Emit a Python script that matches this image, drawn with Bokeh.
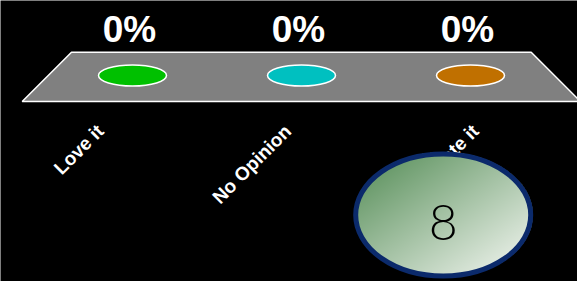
import numpy as np
from bokeh.plotting import figure
from bokeh.models import Range1d
from bokeh.core.properties import value
from bokeh.embed import file_html
from bokeh.resources import INLINE

# ---- data ----
categories = ["Love it", "No Opinion", "Hate it"]
percentages = [0, 0, 0]
bubble_colors = ["#00c000", "#00c0c0", "#c07000"]
countdown = 8

idx = list(range(len(categories)))
pct_text = [f"{v}%" for v in percentages]

W, H = 577, 281

p = figure(width=W, height=H, output_backend="svg", toolbar_location=None,
           x_range=Range1d(-0.7811, 2.6331), y_range=Range1d(0, H),
           x_axis_location=None, y_axis_location=None,
           min_border=0, background_fill_color="black", border_fill_color="black",
           outline_line_color=None)
p.grid.visible = False
p.extra_x_ranges = {"px": Range1d(0, W), "lab": Range1d(-0.4933, 2.584)}

# platform (trapezoid)
p.patch(x=[71, 530.7, 580, 21.7], y=[229.3, 229.3, 180, 180], x_range_name="px",
        fill_color="#808080", line_color="white", line_width=1.5)

# bubbles
p.ellipse(x=idx, y=206, width=68, height=21, width_units="screen", height_units="screen",
          fill_color=bubble_colors, line_color="white", line_width=1.5)

# percentage labels
p.text(x=idx, y=252, text=pct_text, x_offset=-3, text_font=value("Liberation Sans"),
       text_font_style="bold", text_font_size="37px", text_color="white",
       text_align="center", text_baseline="alphabetic")

# category labels
p.text(x=idx, y=161, text=categories, x_range_name="lab", angle=45, angle_units="deg",
       text_font=value("Liberation Sans"), text_font_style="bold", text_font_size="19px",
       text_color="white", text_align="right", text_baseline="top")

# countdown circle with gradient
cx, cy, cw, ch = 442.7, 66.5, 178, 125
ny, nx = 250, 356
yy, xx = np.mgrid[0:ny, 0:nx]
u = (xx + 0.5) / nx
vt = 1.0 - (yy + 0.5) / ny
t = np.clip((u + vt) / 2.0, 0, 1)
c0 = np.array([80, 138, 82])
c1 = np.array([250, 251, 248])
rgb = c0[None, None, :] + (c1 - c0)[None, None, :] * t[..., None]
mask = ((u - 0.5) / 0.5) ** 2 + ((vt - 0.5) / 0.5) ** 2 <= 1.0
img = np.zeros((ny, nx), dtype=np.uint32)
view = img.view(dtype=np.uint8).reshape((ny, nx, 4))
view[..., 0] = rgb[..., 0].astype(np.uint8)
view[..., 1] = rgb[..., 1].astype(np.uint8)
view[..., 2] = rgb[..., 2].astype(np.uint8)
view[..., 3] = np.where(mask, 255, 0).astype(np.uint8)
p.image_rgba(image=[img], x=cx - cw / 2, y=cy - ch / 2, dw=cw, dh=ch, x_range_name="px")
p.ellipse(x=cx, y=cy, width=175, height=122, x_range_name="px",
          fill_color=None, line_color="#0b2a6b", line_width=5)

p.text(x=cx, y=59, text=[str(countdown)], x_range_name="px",
       text_font=value("Lato Light"), text_font_size="50px", text_color="black",
       text_align="center", text_baseline="alphabetic")

html = file_html(p, INLINE, title="poll")
html = html.replace("<body>", '<body style="background-color:#000000;">', 1)
open("out.html", "w").write(html)
